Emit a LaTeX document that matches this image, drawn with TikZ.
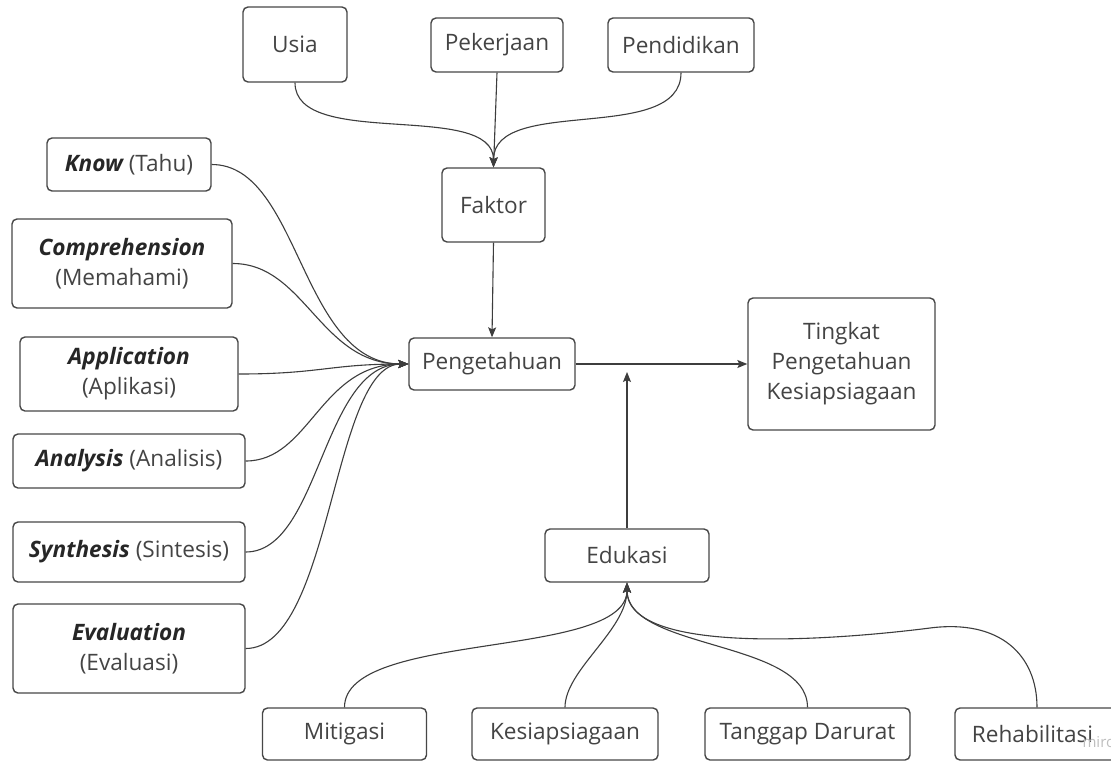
\documentclass[tikz,border=0pt]{standalone}
\usepackage{fontspec}
\setmainfont{Open Sans}
\usetikzlibrary{arrows.meta}
\definecolor{boxline}{HTML}{474747}
\definecolor{conn}{HTML}{3D3D3D}
\definecolor{txt}{HTML}{444444}
\definecolor{strong}{HTML}{262626}
\tikzset{
  box/.style={draw=boxline, line width=1.4pt, rounded corners=5pt, align=center,
    inner sep=0pt, text=txt, font=\fontsize{22.6}{30}\selectfont},
  conn/.style={draw=conn, line width=1.1pt},
  arr/.style={conn, -{Stealth[length=10pt,width=8pt,inset=2pt]}},
}
\newcommand{\bi}[1]{{\color{strong}\bfseries\itshape #1}}
\begin{document}
\begin{tikzpicture}[x=1pt,y=-1pt]
\useasboundingbox (0,0) rectangle (1111,761);
\fill[white] (0,0) rectangle (1111,761);
% top
\node[box, minimum width=104pt, minimum height=75pt] (usia) at (295,44.5) {Usia};
\node[box, minimum width=132pt, minimum height=54pt] (pek) at (497,45) {Pekerjaan};
\node[box, minimum width=146pt, minimum height=54pt] (pend) at (681,45) {Pendidikan};
\node[box, minimum width=103pt, minimum height=74pt] (faktor) at (493.5,205) {Faktor};
% middle
\node[box, minimum width=166pt, minimum height=52pt] (peng) at (492,364) {Pengetahuan};
\node[box, minimum width=187pt, minimum height=132pt] (ting) at (841.5,364) {Tingkat\\Pengetahuan\\Kesiapsiagaan};
% left
\node[box, minimum width=164pt, minimum height=53pt] (know) at (129,164.5) {\bi{Know} (Tahu)};
\node[box, minimum width=220pt, minimum height=89pt] (comp) at (122,263.5) {\bi{Comprehension}\\(Memahami)};
\node[box, minimum width=218pt, minimum height=74pt] (appl) at (129,374) {\bi{Application}\\(Aplikasi)};
\node[box, minimum width=232pt, minimum height=54pt] (anal) at (129,461) {\bi{Analysis} (Analisis)};
\node[box, minimum width=232pt, minimum height=60pt] (synth) at (129,552) {\bi{Synthesis} (Sintesis)};
\node[box, minimum width=232pt, minimum height=89pt] (eval) at (129,648.5) {\bi{Evaluation}\\(Evaluasi)};
% bottom
\node[box, minimum width=164pt, minimum height=53pt] (edu) at (627,555.5) {Edukasi};
\node[box, minimum width=164pt, minimum height=52pt] (mit) at (344.5,734) {Mitigasi};
\node[box, minimum width=186pt, minimum height=52pt] (kes) at (565,734) {Kesiapsiagaan};
\node[box, minimum width=205pt, minimum height=52pt] (tang) at (807.5,734) {Tanggap Darurat};
\node[box, minimum width=164pt, minimum height=52pt, text width=164pt] (rehab) at (1037,734) {\hspace*{-9pt}Rehabilitasi};
\node[text=black!25, font=\fontsize{15}{15}\selectfont, anchor=base west] (miro) at (1079,747) {miro};
% top connectors
\draw[arr] (usia.south) .. controls (295,150) and (493.5,100) .. (faktor.north);
\draw[arr] (pek.south -| 497,0) -- (faktor.north);
\draw[arr] (pend.south) .. controls (681,145) and (493.5,95) .. (faktor.north);
\draw[arr] (faktor.south) -- (peng.north);
% left connectors
\draw[arr] (know.east) .. controls (300,164.5) and (300,364) .. (peng.west);
\draw[arr] (comp.east) .. controls (305,263.5) and (320,364) .. (peng.west);
\draw[arr] (appl.east) .. controls (320,374) and (330,364) .. (peng.west);
\draw[arr] (anal.east) .. controls (310,461) and (320,364) .. (peng.west);
\draw[arr] (synth.east) .. controls (320,552) and (322,364) .. (peng.west);
\draw[arr] (eval.east) .. controls (332,648.5) and (332,364) .. (peng.west);
% right
\draw[arr] (peng.east) -- (ting.west);
\coordinate (edutip) at (627,372);
\draw[arr] (edu.north) -- (edutip);
% bottom connectors
\draw[arr] (mit.north) .. controls (344.5,630) and (627,660) .. (edu.south);
\draw[arr] (kes.north) .. controls (565,670) and (627,630) .. (edu.south);
\draw[arr] (tang.north) .. controls (807.5,640) and (627,650) .. (edu.south);
\coordinate (rpeak) at (930,628);
\draw[arr] (rehab.north -| 1037,0) .. controls (1037,655) and (1000,619) .. (rpeak)
  .. controls (860,637) and (627,660) .. (edu.south);
\end{tikzpicture}
\end{document}
